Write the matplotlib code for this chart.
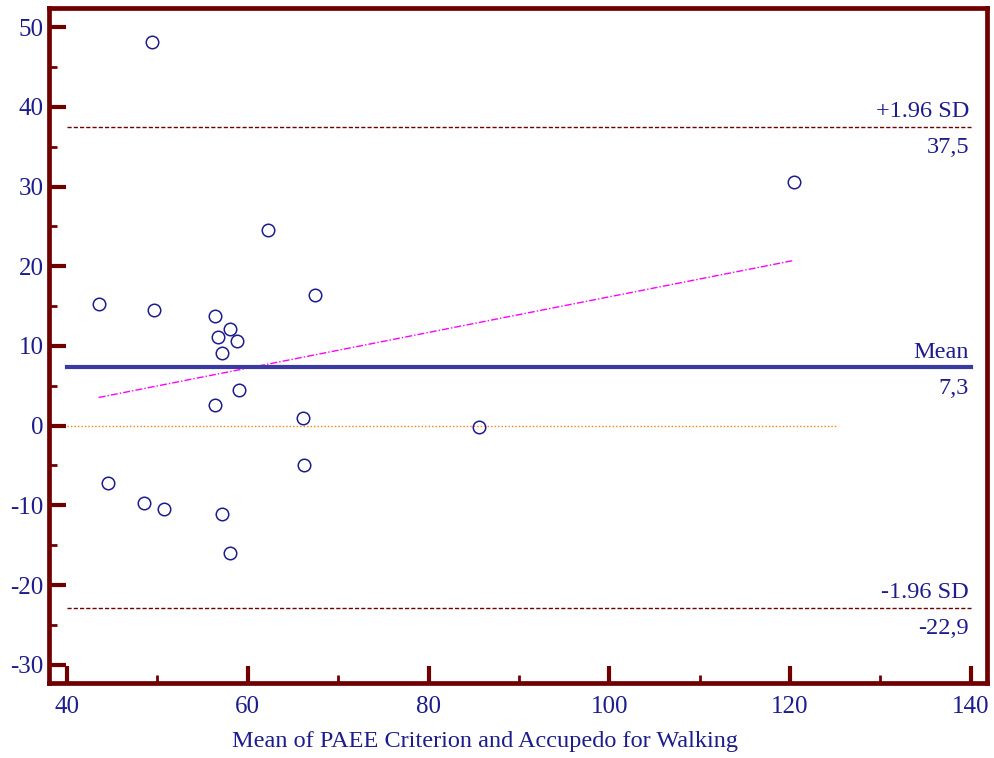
import numpy as np
import matplotlib
matplotlib.use("Agg")
import matplotlib.pyplot as plt
from matplotlib.ticker import MultipleLocator

# Mean of the two methods (x) and their difference (y) for each subject
mean_paee = [49.4, 43.5, 49.6, 62.2, 67.4, 56.4, 58.0, 56.7, 58.8, 57.1, 59.0,
             56.4, 66.1, 85.6, 66.2, 44.5, 48.5, 50.7, 57.1, 58.0, 120.4]
diff_paee = [48.1, 15.2, 14.5, 24.5, 16.4, 13.7, 12.1, 11.1, 10.6, 9.1, 4.5,
             2.6, 0.9, -0.2, -5.0, -7.2, -9.7, -10.5, -11.1, -16.0, 30.6]

mean_diff = 7.3
upper_loa = 37.5
lower_loa = -22.9
line_x = [40, 140]
zero_x = [40, 125.3]

navy = "#1c1c8c"
maroon = "#700000"

plt.rcParams["font.family"] = ["Liberation Serif", "DejaVu Serif"]
plt.rcParams["axes.unicode_minus"] = False

fig = plt.figure(figsize=(9.95, 7.58), dpi=100)
ax = fig.add_axes([0.0492, 0.0989, 0.9428, 0.8905])

x = np.array(mean_paee)
y = np.array(diff_paee)

# zero reference and regression of difference on mean
ax.plot(zero_x, [0, 0], color="#ff8010", lw=1.0, ls=(0, (1, 1.5)), zorder=1)
slope, intercept = np.polyfit(x, y, 1)
xr = np.array([x.min(), x.max()])
ax.plot(xr, intercept + slope * xr, color="#ff00ff", lw=1.0,
        ls=(0, (5, 1.5, 1, 1.5)), zorder=1)

# mean difference and limits of agreement
ax.plot(line_x, [mean_diff, mean_diff], color="#3a3aa0", lw=3.0, zorder=2)
ax.plot(line_x, [upper_loa, upper_loa], color=maroon, lw=1.0, ls=(0, (3, 1.5)), zorder=2)
ax.plot(line_x, [lower_loa, lower_loa], color=maroon, lw=1.0, ls=(0, (3, 1.5)), zorder=2)

ax.plot(x, y, "o", mfc="none", mec=navy, ms=9, mew=1.1, zorder=3)

tkw = dict(color=navy, fontsize=17.5, ha="right", va="baseline")
xt = 139.8
above, below = 1.22, 3.3
for level, name, value in [(upper_loa, "+1.96 SD", "37,5"),
                           (mean_diff, "Mean", "7,3"),
                           (lower_loa, "-1.96 SD", "-22,9")]:
    ax.text(xt, level + above, name, **tkw)
    ax.text(xt, level - below, value, **tkw)

ax.set_xlim(38.0, 141.8)
ax.set_ylim(-32.3, 52.4)
ax.xaxis.set_minor_locator(MultipleLocator(10))
ax.yaxis.set_minor_locator(MultipleLocator(5))
ax.set_xticks(np.arange(40, 141, 20))
ax.set_yticks(np.arange(-30, 51, 10))

for s in ax.spines.values():
    s.set_color(maroon)
    s.set_linewidth(3.4)

ax.tick_params(which="major", direction="in", length=12, width=3, color=maroon,
               labelcolor=navy, labelsize=18)
ax.tick_params(axis="y", which="major", pad=4)
ax.tick_params(axis="x", which="major", pad=9)
ax.tick_params(which="minor", direction="in", length=6, width=2.0, color=maroon)
ax.tick_params(axis="y", which="both", right=False)
ax.tick_params(axis="x", which="both", top=False)

ax.set_xlabel("Mean of PAEE Criterion and Accupedo for Walking", color=navy,
              fontsize=17.5, labelpad=10)
ax.xaxis.label.set_x(0.465)

fig.savefig("out.png", dpi=100)
